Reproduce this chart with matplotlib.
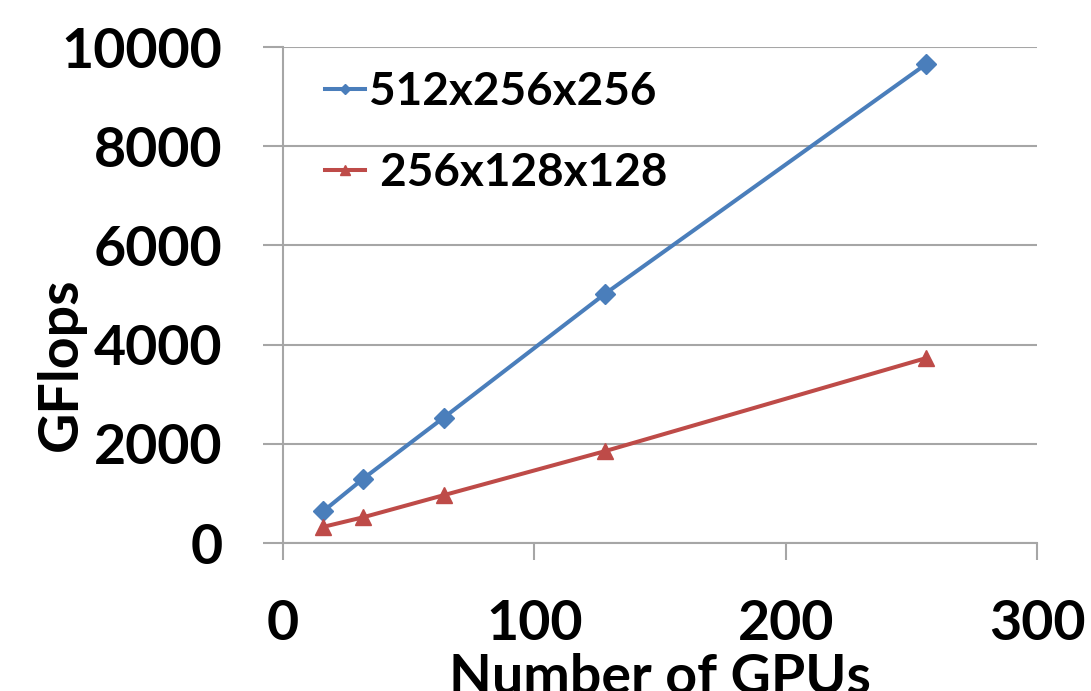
import matplotlib
matplotlib.rcParams["font.family"] = ["Lato", "DejaVu Sans"]
matplotlib.rcParams["font.weight"] = "bold"
import matplotlib.pyplot as plt

# GPU counts and measured GFlops per grid size
gpus = [16, 32, 64, 128, 256]
gflops_512 = [640, 1300, 2530, 5020, 9660]
gflops_256 = [325, 520, 965, 1850, 3730]
series_labels = ["512x256x256", " 256x128x128"]

x_ticks = [0, 100, 200, 300]
y_ticks = [0, 2000, 4000, 6000, 8000, 10000]

blue = "#4A7EBB"
red = "#BE4B48"
grey = "#A6A6A6"

W, H = 1091, 691
fig = plt.figure(figsize=(W / 100, H / 100), dpi=100)
ax = fig.add_axes([283 / W, 1 - 543 / H, (1037 - 283) / W, (543 - 47) / H])

ax.plot(gpus, gflops_512, color=blue, linewidth=2.9, marker="D", markersize=10,
        label=series_labels[0])
ax.plot(gpus, gflops_256, color=red, linewidth=2.9, marker="^", markersize=12,
        label=series_labels[1])

ax.set_xlim(0, 300)
ax.set_ylim(0, 10000)
ax.set_xticks(x_ticks)
ax.set_yticks(y_ticks)
ax.yaxis.grid(True, color=grey, linewidth=1.5)
ax.set_axisbelow(True)

for side in ["top", "right"]:
    ax.spines[side].set_visible(False)
for side in ["left", "bottom"]:
    ax.spines[side].set_color(grey)
    ax.spines[side].set_linewidth(1.5)

ax.tick_params(axis="y", length=14.5, width=1.5, color=grey, pad=29, labelsize=40)
ax.tick_params(axis="x", length=12, width=1.5, color=grey, pad=28, labelsize=40)
for lbl in ax.get_xticklabels() + ax.get_yticklabels():
    lbl.set_fontweight("bold")

ax.set_ylabel("GFlops", fontsize=40, fontweight="bold")
ax.yaxis.set_label_coords(-0.262, 0.36)
ax.set_xlabel("Number of GPUs", fontsize=40, fontweight="bold", labelpad=3)

leg = fig.legend(*ax.get_legend_handles_labels(), loc="upper left",
                 bbox_to_anchor=(325 / W, 1 - 71 / H), frameon=False, borderpad=0,
                 borderaxespad=0, fontsize=33, handlelength=0.87, handletextpad=0.1,
                 labelspacing=0.85, markerscale=0.55)
for txt in leg.get_texts():
    txt.set_fontweight("bold")

fig.savefig("out.png", dpi=100)
